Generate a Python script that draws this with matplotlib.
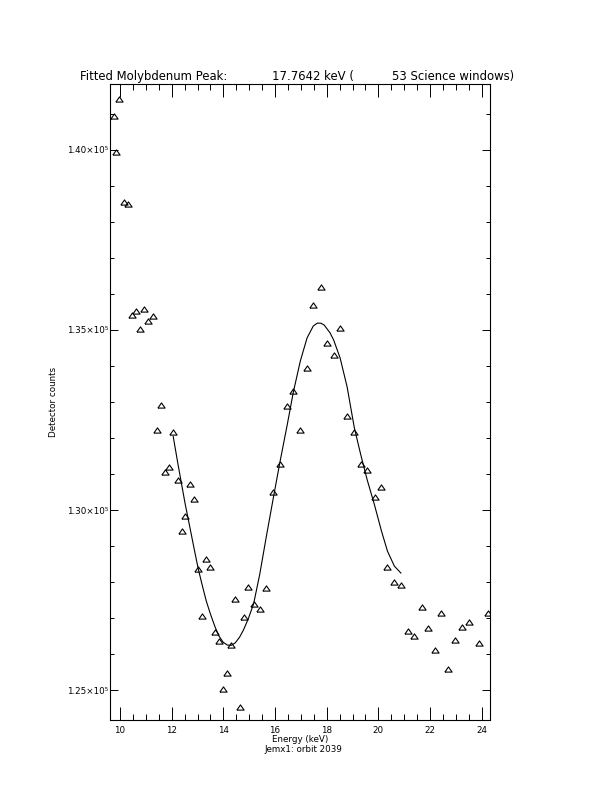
import matplotlib
matplotlib.use('Agg')
import matplotlib.pyplot as plt
from matplotlib.ticker import MultipleLocator, FixedLocator

# measured spectrum (energy in keV, detector counts)
energy = [9.76, 9.86, 9.97, 10.14, 10.30, 10.47, 10.63, 10.77, 10.94, 11.10,
          11.27, 11.42, 11.59, 11.74, 11.91, 12.06, 12.23, 12.39, 12.53, 12.71,
          12.87, 13.03, 13.19, 13.34, 13.50, 13.68, 13.83, 13.99, 14.15, 14.30,
          14.46, 14.63, 14.78, 14.96, 15.17, 15.41, 15.66, 15.94, 16.19, 16.47,
          16.71, 16.98, 17.24, 17.48, 17.76, 18.01, 18.27, 18.52, 18.79, 19.07,
          19.32, 19.57, 19.85, 20.11, 20.35, 20.62, 20.87, 21.15, 21.39, 21.67,
          21.91, 22.18, 22.44, 22.70, 22.95, 23.22, 23.52, 23.90, 24.25]
counts = [140950, 139950, 141420, 138560, 138500, 135420, 135540, 135020, 135590, 135260,
          135400, 132220, 132920, 131060, 131190, 132160, 130830, 129420, 129840, 130720,
          130310, 128360, 127060, 128640, 128410, 126610, 126360, 125030, 125470, 126250,
          127520, 124530, 127030, 127860, 127390, 127250, 127820, 130510, 131280, 132890,
          133310, 132220, 133950, 135700, 136190, 134650, 134310, 135060, 132620, 132180,
          131290, 131100, 130370, 130650, 128430, 128000, 127910, 126640, 126510, 127310,
          126720, 126120, 127150, 125580, 126390, 126750, 126890, 126310, 127150]

# fitted peak curve
fit_energy = [12.06, 12.23, 12.39, 12.53, 12.71, 12.87, 13.03, 13.19, 13.34, 13.50,
              13.68, 13.83, 13.99, 14.15, 14.30, 14.46, 14.63, 14.78, 14.96, 15.17,
              15.41, 15.66, 15.94, 16.19, 16.47, 16.71, 16.98, 17.24, 17.48, 17.63,
              17.77, 17.90, 18.13, 18.27, 18.52, 18.79, 19.07, 19.32, 19.57, 19.85,
              20.11, 20.35, 20.62, 20.87]
fit_counts = [132040, 131330, 130690, 130140, 129500, 128920, 128360, 127890, 127470, 127110,
              126750, 126500, 126330, 126250, 126240, 126310, 126470, 126670, 126970, 127390,
              128220, 129250, 130360, 131330, 132360, 133280, 134140, 134780, 135110, 135190,
              135190, 135140, 134920, 134720, 134220, 133420, 132280, 131530, 130830, 130140,
              129440, 128860, 128440, 128250]

ytick_values = [125000, 130000, 135000, 140000]
ytick_labels = ['1.25×10⁵', '1.30×10⁵', '1.35×10⁵', '1.40×10⁵']
xtick_values = [10, 12, 14, 16, 18, 20, 22, 24]

W, H = 612, 792
fig = plt.figure(figsize=(W / 100, H / 100), dpi=100)
ax = fig.add_axes([110 / W, 1 - 719.5 / H, 380 / W, 635.5 / H])

# flat open triangle like IDL psym=5
tri = [(-1, -0.72), (1, -0.72), (0, 0.72), (-1, -0.72)]
ax.plot(energy, counts, linestyle='none', marker=tri, markersize=5.2,
        markerfacecolor='none', markeredgecolor='black', markeredgewidth=0.8)
ax.plot(fit_energy, fit_counts, color='black', linewidth=0.8)

ax.set_xlim(9.613, 24.32)
ax.set_ylim(124181, 141833)

ax.xaxis.set_major_locator(FixedLocator(xtick_values))
ax.xaxis.set_minor_locator(MultipleLocator(0.5))
ax.yaxis.set_major_locator(FixedLocator(ytick_values))
ax.yaxis.set_minor_locator(MultipleLocator(1000))
ax.set_xticklabels([str(v) for v in xtick_values])
ax.set_yticklabels(ytick_labels)

ax.tick_params(which='both', direction='in', top=True, right=True, width=0.7,
               labelsize=6.3, colors='black')
ax.tick_params(axis='x', which='major', length=9.1, pad=5)
ax.tick_params(axis='x', which='minor', length=4.6)
ax.tick_params(axis='y', which='major', length=5.5, pad=1.5)
ax.tick_params(axis='y', which='minor', length=2.7)
for sp in ax.spines.values():
    sp.set_linewidth(0.8)

# title in three pieces (IDL string had padded spaces)
fs_title = 8.4
fig.text(80 / W, 1 - 80 / H, 'Fitted Molybdenum Peak:', fontsize=fs_title, va='baseline')
fig.text(271.7 / W, 1 - 80 / H, '17.7642 keV (', fontsize=fs_title, va='baseline')
fig.text(391.7 / W, 1 - 80 / H, '53 Science windows)', fontsize=fs_title, va='baseline')

fig.text(300 / W, 1 - 739 / H, 'Energy (keV)', fontsize=6.3, ha='center', va='center')
fig.text(303 / W, 1 - 749 / H, 'Jemx1: orbit 2039', fontsize=6.3, ha='center', va='center')
fig.text(54 / W, 1 - 402 / H, 'Detector counts', fontsize=6.3, ha='center', va='center',
         rotation=90)

fig.savefig('out.png', dpi=100)
